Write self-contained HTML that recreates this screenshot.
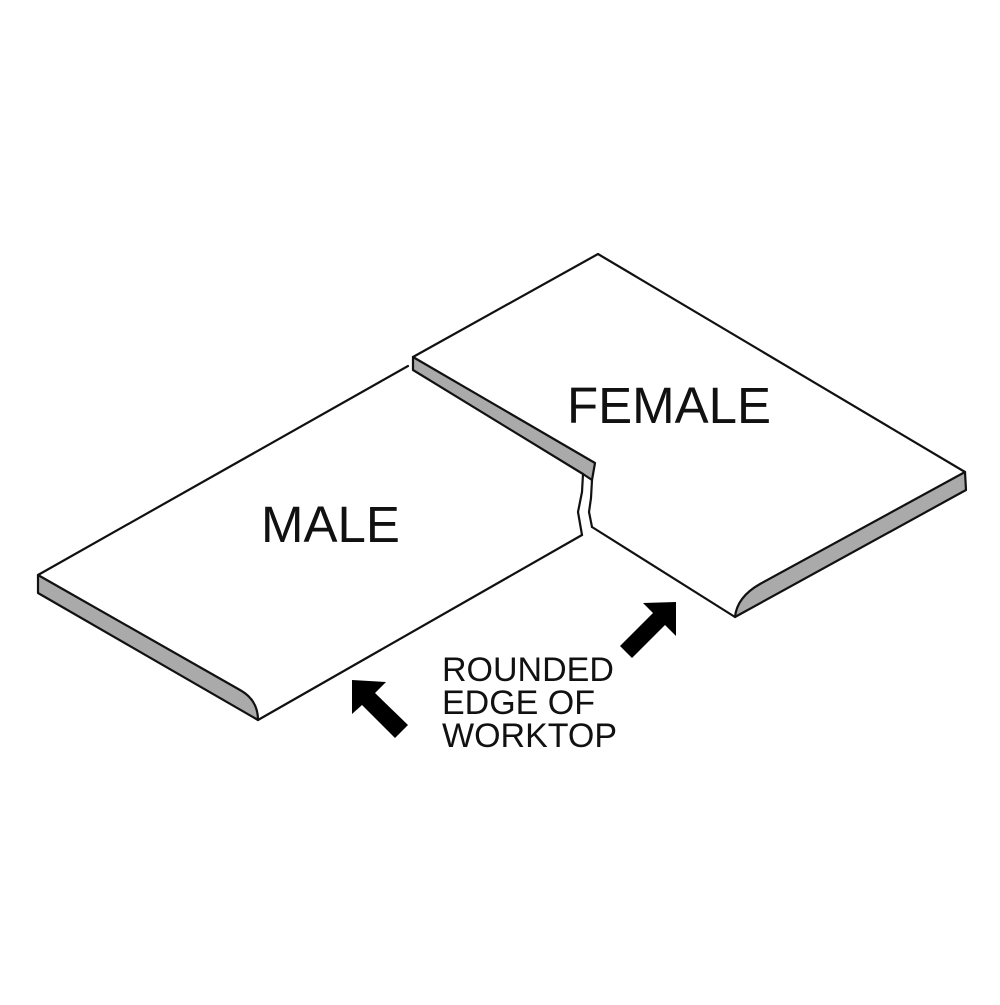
<!DOCTYPE html>
<html><head><style>body{margin:0;background:#fff}</style></head><body>
<svg width="1000" height="1000" viewBox="0 0 1000 1000" xmlns="http://www.w3.org/2000/svg">
<rect width="1000" height="1000" fill="#fff"/>
<g stroke="#111" stroke-width="2.2" stroke-linejoin="round" stroke-linecap="round" fill="none">
<!-- male top outline -->
<path d="M38,575 L408,366"/>
<path d="M258,720 L582,535"/>
<!-- male front edge -->
<path d="M38,575 L240,690 Q258,700 258,720 L38,593 Z" fill="#aaa"/>
<!-- female outline -->
<path d="M413,357 L598,254 L965,472"/>
<path d="M592,527 L735,617"/>
<!-- female joint edge -->
<polygon points="413,357 595,463 592,480 583,474 413,370" fill="#aaa"/>
<!-- female front edge -->
<path d="M965,472 L760,584 Q737,597 735,617 L966,490 Z" fill="#aaa"/>
<!-- jagged joint lines -->
<path d="M583,474 L582,492 L578,512 L582,535"/>
<path d="M592,480 L591,498 L589,512 L592,527"/>
</g>
<g fill="#000">
<polygon points="352,680 386,682 375,693 408,725 395,738 362,705 352,714"/>
<polygon points="676,602 676,636 665,625 632,658 620,646 653,613 643,603"/>
</g>
<g font-family="Liberation Sans, sans-serif" fill="#111">
<text x="261" y="542" font-size="51">MALE</text>
<text x="567" y="423" font-size="51">FEMALE</text>
<text x="442" y="681" font-size="34">ROUNDED</text>
<text x="442" y="714" font-size="34">EDGE OF</text>
<text x="442" y="747" font-size="34">WORKTOP</text>
</g>
</svg>
</body></html>
